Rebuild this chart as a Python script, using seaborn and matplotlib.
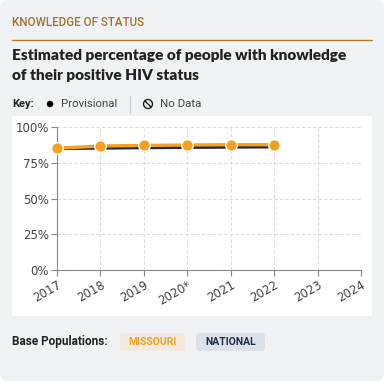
import matplotlib
matplotlib.use("Agg")
import matplotlib.pyplot as plt
import seaborn as sns
import pandas as pd
from matplotlib.patches import FancyBboxPatch, Rectangle, Circle
from matplotlib.lines import Line2D

years = [2017, 2018, 2019, 2020, 2021, 2022]
missouri = [85.1, 86.7, 87.1, 87.4, 87.6, 87.6]
national = [85.0, 85.3, 85.6, 85.8, 86.0, 86.2]
tick_years = [2017, 2018, 2019, 2020, 2021, 2022, 2023, 2024]
tick_labels = ["2017", "2018", "2019", "2020*", "2021", "2022", "2023", "2024"]
y_ticks = [0, 25, 50, 75, 100]
y_labels = ["0%", "25%", "50%", "75%", "100%"]

df = pd.DataFrame({
    "year": years * 2,
    "value": national + missouri,
    "pop": ["National"] * len(years) + ["Missouri"] * len(years),
})

ORANGE = "#f5a01f"
NAVY = "#1b2d4b"

sns.set_theme(style="white")
W, H = 384, 381
fig = plt.figure(figsize=(W / 100, H / 100), dpi=100, facecolor="white")

def fx(px):
    return px / W

def fy(py):
    return 1 - py / H

# card background
fig.patches.append(FancyBboxPatch((0, 0), 1, 1, boxstyle="round,pad=0,rounding_size=0.02",
                                  transform=fig.transFigure, facecolor="#f1f2f6",
                                  edgecolor="none", zorder=-2))
# white plot panel
fig.patches.append(Rectangle((fx(12), fy(316)), fx(372) - fx(12), fy(116) - fy(316),
                             transform=fig.transFigure, facecolor="white",
                             edgecolor="none", zorder=-1))

# header
fig.text(fx(12), fy(23), "KNOWLEDGE OF STATUS", color="#a9722a", fontsize=8.4,
         family="Roboto", va="center", ha="left", fontweight="medium")
fig.add_artist(Line2D([fx(12), fx(372)], [fy(40), fy(40)], color="#b07a2c", lw=1.0,
                      transform=fig.transFigure))
fig.text(fx(12), fy(55), "Estimated percentage of people with knowledge", color="#222222",
         fontsize=11.1, family="Lato", fontweight="heavy", va="center", ha="left")
fig.text(fx(12), fy(75), "of their positive HIV status", color="#222222",
         fontsize=11.1, family="Lato", fontweight="heavy", va="center", ha="left")

# key
fig.text(fx(12), fy(104), "Key:", color="#222222", fontsize=8, family="Roboto",
         fontweight="bold", va="center", ha="left")
fig.add_artist(Circle((fx(50), fy(104)), 3.3 / W, transform=fig.transFigure,
                      facecolor="black", edgecolor="none"))
fig.text(fx(61), fy(104), "Provisional", color="#444444", fontsize=8.2, family="Roboto",
         va="center", ha="left")
fig.add_artist(Line2D([fx(130), fx(130)], [fy(96), fy(113)], color="#cccccc", lw=0.8,
                      transform=fig.transFigure))
ax_icon = fig.add_axes([fx(142), fy(110), 12 / W, 12 / H])
ax_icon.set_zorder(5)
ax_icon.set_xlim(-1, 1); ax_icon.set_ylim(-1, 1); ax_icon.set_aspect("equal"); ax_icon.axis("off")
ax_icon.add_patch(Circle((0, 0), 0.75, fill=False, edgecolor="#222222", lw=1.0))
ax_icon.plot([-0.53, 0.53], [0.53, -0.53], color="#222222", lw=1.0)
fig.text(fx(160), fy(104), "No Data", color="#444444", fontsize=8.2, family="Roboto",
         va="center", ha="left")

# main axes
ax = fig.add_axes([fx(57), fy(270), fx(361) - fx(57), fy(127) - fy(270)])
ax.set_zorder(5)
ax.set_facecolor("white")
sns.lineplot(data=df, x="year", y="value", hue="pop",
             hue_order=["National", "Missouri"],
             palette={"National": NAVY, "Missouri": ORANGE},
             ax=ax, legend=False, linewidth=2.4)
# markers for Missouri only
sns.scatterplot(data=df[df["pop"] == "Missouri"], x="year", y="value", color=ORANGE,
                s=70, edgecolor="white", linewidth=1.0, ax=ax, legend=False,
                zorder=5, clip_on=False)

ax.set_xlim(2017, 2024)
ax.set_ylim(0, 100)
ax.set_xticks(tick_years)
ax.set_xticklabels(tick_labels, rotation=30, ha="right", rotation_mode="anchor",
                   fontsize=8.5, color="#444444")
ax.set_yticks(y_ticks)
ax.set_yticklabels(y_labels, fontsize=8.5, color="#444444")
ax.set_xlabel(""); ax.set_ylabel("")
ax.grid(True, color="#dddddd", linestyle=(0, (3, 2)), linewidth=0.8)
for s in ["top", "right"]:
    ax.spines[s].set_visible(False)
for s in ["left", "bottom"]:
    ax.spines[s].set_color("#888888")
    ax.spines[s].set_linewidth(0.8)
ax.tick_params(axis="both", length=4, width=0.8, color="#888888", pad=2,
               bottom=True, left=True)

# base populations
fig.text(fx(12), fy(342), "Base Populations:", color="#222222", fontsize=8.5,
         family="Roboto", fontweight="bold", va="center", ha="left")
fig.patches.append(FancyBboxPatch((fx(120), fy(351)), fx(185) - fx(120), fy(333) - fy(351),
                                  boxstyle="round,pad=0,rounding_size=0.008",
                                  transform=fig.transFigure, facecolor="#f3e9df",
                                  edgecolor="none"))
fig.text(fx(152.5), fy(342), "MISSOURI", color=ORANGE, fontsize=7.5, family="Roboto",
         fontweight="bold", va="center", ha="center")
fig.patches.append(FancyBboxPatch((fx(196), fy(351)), fx(265) - fx(196), fy(333) - fy(351),
                                  boxstyle="round,pad=0,rounding_size=0.008",
                                  transform=fig.transFigure, facecolor="#dde1e8",
                                  edgecolor="none"))
fig.text(fx(230.5), fy(342), "NATIONAL", color=NAVY, fontsize=7.5, family="Roboto",
         fontweight="bold", va="center", ha="center")

fig.savefig("out.png", dpi=100)
